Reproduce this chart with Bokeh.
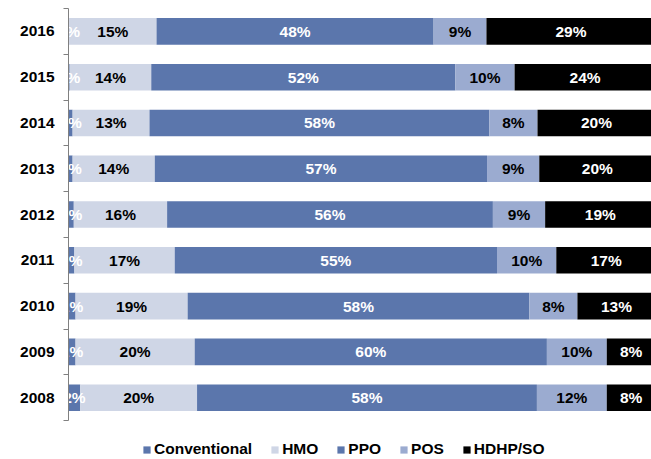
import numpy as np
from bokeh.plotting import figure
from bokeh.models import ColumnDataSource, Range1d, FixedTicker, Legend, LegendItem
from bokeh.core.properties import value
from bokeh.embed import file_html
from bokeh.resources import INLINE

years = ["2008", "2009", "2010", "2011", "2012", "2013", "2014", "2015", "2016"]
series = ["Conventional", "HMO", "PPO", "POS", "HDHP/SO"]
conventional = [2.0, 1.2, 1.2, 1.0, 0.9, 0.7, 0.7, 0.2, 0.1]
hmo = [19.9, 20.3, 19.1, 17.1, 15.9, 14.0, 13.1, 13.9, 14.9]
ppo = [57.9, 60.0, 58.2, 54.9, 55.5, 56.6, 57.9, 51.8, 47.2]
pos = [11.9, 10.2, 8.2, 10.1, 8.9, 8.9, 8.2, 10.1, 9.0]
hdhp = [8.3, 8.3, 13.3, 17.0, 18.8, 19.8, 20.1, 24.0, 28.8]

conv_labels = ["2%", "1%", "1%", "1%", "1%", "1%", "1%", "0%", "0%"]
hmo_labels = ["20%", "20%", "19%", "17%", "16%", "14%", "13%", "14%", "15%"]
ppo_labels = ["58%", "60%", "58%", "55%", "56%", "57%", "58%", "52%", "48%"]
pos_labels = ["12%", "10%", "8%", "10%", "9%", "9%", "8%", "10%", "9%"]
hdhp_labels = ["8%", "8%", "13%", "17%", "19%", "20%", "20%", "24%", "29%"]

colors = ["#5B76AC", "#CFD6E6", "#5B76AC", "#9BABD0", "#000000"]
text_colors = ["white", "black", "white", "black", "white"]

vals = [conventional, hmo, ppo, pos, hdhp]
labels = [conv_labels, hmo_labels, ppo_labels, pos_labels, hdhp_labels]

ypos = list(range(len(years)))
data = {"y": ypos}
for name, v in zip(series, vals):
    data[name] = v
source = ColumnDataSource(data)

FONT = "Liberation Sans"
FS = "15.5px"
top = len(years) - 0.5

p = figure(width=651, height=459, output_backend="svg", toolbar_location=None,
           x_range=Range1d(0, 99.32), y_range=Range1d(top - 9.85, top),
           x_axis_location=None, min_border_left=68, min_border_right=0,
           min_border_top=8, min_border_bottom=0)
p.outline_line_color = None
p.xgrid.visible = False
p.ygrid.visible = False

rs = p.hbar_stack(series, y="y", height=0.58, color=colors, source=source,
                  line_color=None)

arr = np.array(vals)
cum = np.cumsum(arr, axis=0)
starts = cum - arr
for i in range(len(series)):
    centers = (starts[i] + cum[i]) / 2
    tsrc = ColumnDataSource({"x": centers, "y": ypos, "t": labels[i]})
    p.text(x="x", y="y", text="t", source=tsrc, text_align="center",
           text_baseline="middle", text_color=text_colors[i],
           text_font=value(FONT), text_font_style="bold", text_font_size=FS)

ax = p.yaxis[0]
ax.bounds = (-0.5, top)
ax.ticker = FixedTicker(ticks=ypos, minor_ticks=[y - 0.5 for y in ypos] + [top])
ax.major_label_overrides = {y: yr for y, yr in zip(ypos, years)}
ax.major_tick_out = 0
ax.major_tick_in = 0
ax.minor_tick_out = 5
ax.minor_tick_in = 0
ax.axis_line_color = "#808080"
ax.minor_tick_line_color = "#808080"
ax.major_label_standoff = 9
ax.major_label_text_font = FONT
ax.major_label_text_font_style = "bold"
ax.major_label_text_font_size = FS
ax.major_label_text_color = "black"

legend = Legend(items=[LegendItem(label=s, renderers=[r]) for s, r in zip(series, rs)],
                orientation="horizontal", location=(74, 1),
                glyph_width=9, glyph_height=9, label_standoff=3, spacing=18,
                padding=0, margin=0, label_height=16,
                label_text_font=FONT, label_text_font_style="bold",
                label_text_font_size=FS, label_text_color="black",
                border_line_color=None, background_fill_alpha=0)
p.add_layout(legend, "center")

open("out.html", "w").write(file_html(p, INLINE))
